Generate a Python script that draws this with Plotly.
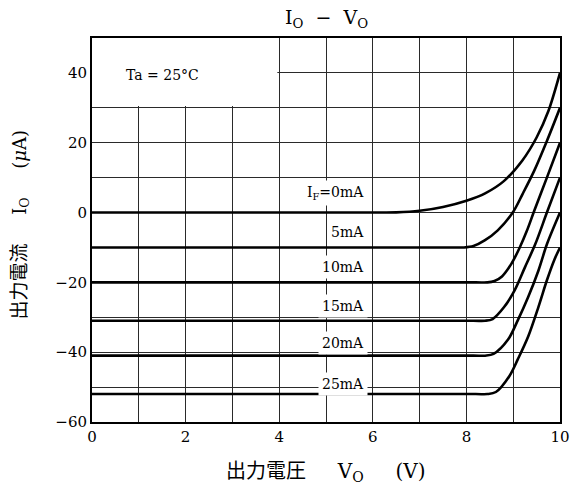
import plotly.graph_objects as go

# ---- data ----
labels = ["I<sub>F</sub>=0mA", "5mA", "10mA", "15mA", "20mA", "25mA"]
label_y = [5.7, -5.6, -15.6, -26.8, -37.3, -49.2]

vo_0 = [0, 6.2, 6.5, 7.0, 7.5, 8.0, 8.4, 8.8, 9.2, 9.5, 9.75, 10.0]
io_0 = [0, 0, 0.05, 0.5, 1.6, 3.4, 5.5, 9.0, 15.0, 21.5, 29.0, 40.0]

vo_5 = [0, 7.7, 7.95, 8.15, 8.39, 8.67, 8.99, 9.2, 9.45, 9.72, 10.0]
io_5 = [-10, -10, -10, -9.6, -8.0, -5.1, 0, 5.3, 12.0, 20.5, 30.0]

vo_10 = [0, 8.2, 8.45, 8.6, 8.76, 8.96, 9.14, 9.29, 9.45, 9.72, 10.0]
io_10 = [-20, -20, -20, -19.6, -18.3, -14.7, -10.0, -5.3, 0.5, 10.0, 20.0]

vo_15 = [0, 8.15, 8.4, 8.56, 8.81, 9.03, 9.25, 9.47, 9.72, 10.0]
io_15 = [-31, -31, -31, -30.5, -27.0, -22.3, -15.7, -9.1, 0, 10.0]

vo_20 = [0, 8.15, 8.4, 8.58, 8.89, 9.1, 9.32, 9.54, 9.72, 10.0]
io_20 = [-41, -41, -41, -40.5, -36.4, -30.8, -24.2, -16.6, -9.1, 0]

vo_25 = [0, 8.2, 8.45, 8.63, 8.92, 9.1, 9.32, 9.54, 9.72, 9.88, 10.0]
io_25 = [-52, -52, -52, -51.4, -46.8, -42.0, -35.5, -27.0, -19.4, -13.5, -10.0]

series = [(vo_0, io_0), (vo_5, io_5), (vo_10, io_10),
          (vo_15, io_15), (vo_20, io_20), (vo_25, io_25)]

x_ticks = [0, 2, 4, 6, 8, 10]
y_ticks = [-60, -40, -20, 0, 20, 40]

SERIF = "DejaVu Serif"
CJK = "Noto Sans CJK JP"
GRID = "#2a2a2a"

fig = go.Figure()
for vx, iy in series:
    fig.add_trace(go.Scatter(x=vx, y=iy, mode="lines",
                             line=dict(color="black", width=2.6, shape="spline", smoothing=0.9),
                             showlegend=False, hoverinfo="skip"))

# curve labels (white background hides grid lines, as in the reference)
for txt, ly in zip(labels, label_y):
    fig.add_annotation(x=5.9, y=ly, xref="x", yref="y", text=txt, showarrow=False,
                       xanchor="right", yanchor="middle",
                       font=dict(family=SERIF, size=14, color="black"),
                       bgcolor="white", borderpad=3)

fig.add_annotation(x=1.5, y=39.5, xref="x", yref="y", text="Ta = 25°C", showarrow=False,
                   font=dict(family=SERIF, size=14, color="black"))

# blank region behind the Ta label
fig.add_shape(type="rect", xref="x", yref="y", x0=0.0, x1=3.96, y0=30.5, y1=50,
              fillcolor="white", line=dict(width=0), layer="between")

# titles
fig.add_annotation(x=0.5, y=1.05, xref="paper", yref="paper", yanchor="middle",
                   text="I<sub>O</sub>  −  V<sub>O</sub>", showarrow=False,
                   font=dict(family=SERIF, size=19, color="black"))
fig.add_annotation(x=0.5, y=-0.125, xref="paper", yref="paper", yanchor="middle",
                   text="<span style='font-family:Noto Sans CJK JP;font-size:20px'>出力電圧</span>"
                        "     V<sub>O</sub>     (V)",
                   showarrow=False, font=dict(family=SERIF, size=20, color="black"))
fig.add_annotation(x=-0.158, y=0.512, xref="paper", yref="paper", textangle=-90,
                   xanchor="center", yanchor="middle",
                   text="<span style='font-family:Noto Sans CJK JP;font-size:19px'>出力電流</span>"
                        "     I<sub>O</sub>     (<i>μ</i>A)",
                   showarrow=False, font=dict(family=SERIF, size=18, color="black"))

axis_common = dict(showline=True, linecolor="black", linewidth=2, mirror=True,
                   showgrid=True, gridcolor=GRID, gridwidth=1.2, zeroline=False,
                   ticks="", automargin=False,
                   tickfont=dict(family=SERIF, size=15, color="black"))

fig.update_xaxes(range=[0, 10], tickvals=x_ticks,
                 minor=dict(dtick=1, showgrid=True, gridcolor=GRID, gridwidth=1.2),
                 **axis_common)
fig.update_yaxes(range=[-60, 50], tickvals=y_ticks,
                 minor=dict(dtick=10, showgrid=True, gridcolor=GRID, gridwidth=1.2),
                 **axis_common)

fig.update_layout(width=573, height=495, autosize=False,
                  plot_bgcolor="white", paper_bgcolor="white",
                  margin=dict(l=92, r=13, t=38, b=73, autoexpand=False))

fig.write_html("out.html", config={"responsive": False, "displayModeBar": False},
               post_script="document.body.style.margin='0';"
                           "document.body.style.overflow='hidden';")
